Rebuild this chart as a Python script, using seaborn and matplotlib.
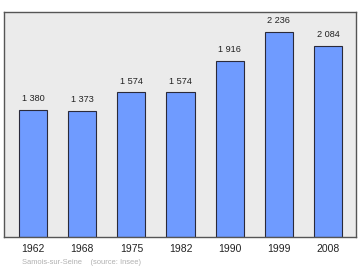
import matplotlib
matplotlib.use("Agg")
import matplotlib.pyplot as plt
import seaborn as sns
import pandas as pd

years = ["1962", "1968", "1975", "1982", "1990", "1999", "2008"]
population = [1380, 1373, 1574, 1574, 1916, 2236, 2084]
labels = ["1 380", "1 373", "1 574", "1 574", "1 916", "2 236", "2 084"]

df = pd.DataFrame({"year": years, "pop": population})

sns.set_style("white")
plt.rcParams['font.family'] = ['Liberation Sans', 'DejaVu Sans']

fig = plt.figure(figsize=(3.6, 2.7), dpi=100)
ax = fig.add_axes([4/360, 33/270, 352/360, 225/270])
ax.set_facecolor("#ebebeb")
sns.barplot(data=df, x="year", y="pop", ax=ax, color="#6f9bff", saturation=1,
            width=0.57, edgecolor="#2a2a3a", linewidth=0.8)
ax.set_ylim(0, 2450)
ax.set_xlim(-0.59, 6.57)
for i, (v, t) in enumerate(zip(population, labels)):
    ax.text(i, v + 75, t, ha="center", va="bottom", fontsize=6.6, color="#222222")
ax.set_yticks([])
ax.set_xlabel("")
ax.set_ylabel("")
ax.tick_params(axis="x", length=0, labelsize=7.5, pad=5, colors="#222222")
for s in ax.spines.values():
    s.set_color("#555555")
    s.set_linewidth(1.0)
fig.text(22/360, 1 - 262/270, "Samois-sur-Seine    (source: Insee)", fontsize=5.4,
         color="#b0b0b0", va="center", ha="left")
fig.savefig("out.png", dpi=100)
